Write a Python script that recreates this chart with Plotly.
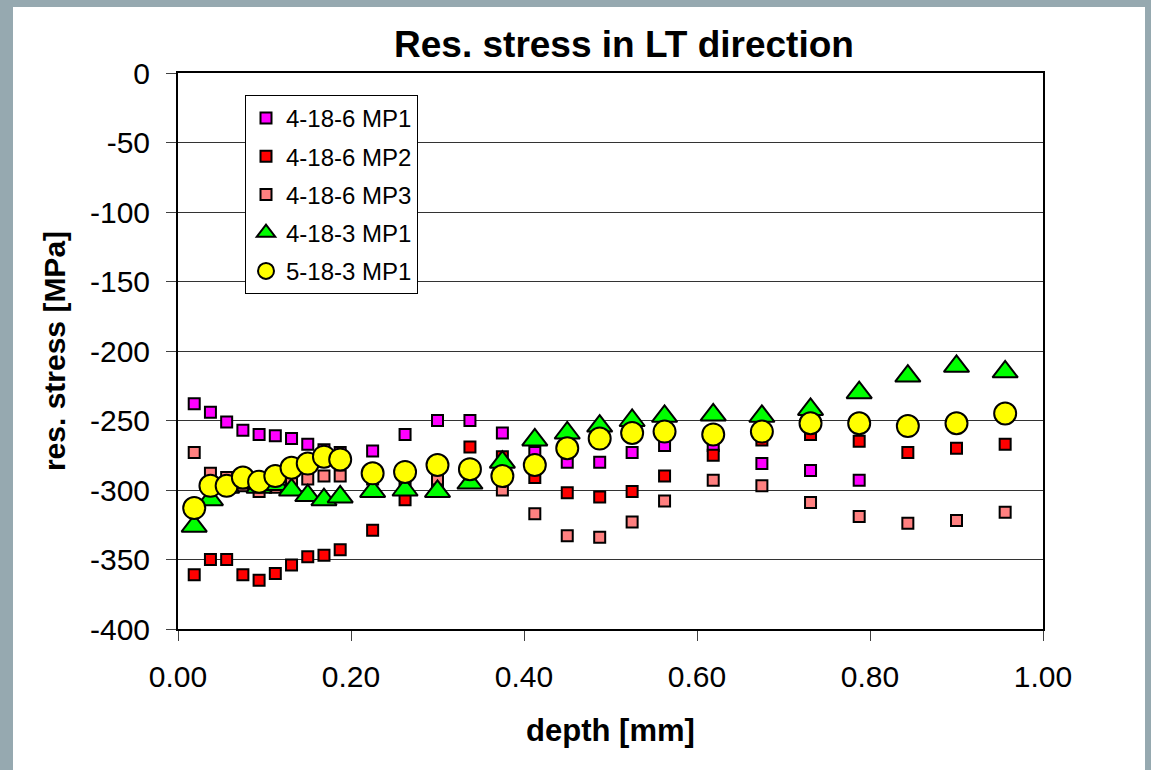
import plotly.graph_objects as go

depth = [0.01875, 0.0375, 0.05625, 0.075, 0.09375, 0.1125, 0.13125, 0.15, 0.16875, 0.1875,
         0.225, 0.2625, 0.3, 0.3375, 0.375, 0.4125, 0.45, 0.4875, 0.525, 0.5625,
         0.61875, 0.675, 0.73125, 0.7875, 0.84375, 0.9, 0.95625]

s_4_18_6_mp1 = [-238, -244, -251, -257, -260, -261, -263, -267, -271, -273,
                -272, -260, -250, -250, -259, -273, -280, -280, -273, -268,
                -268, -281, -286, -293]
s_4_18_6_mp2 = [-361, -350, -350, -361, -365, -360, -354, -348, -347, -343,
                -329, -307, -297, -269, -276, -291, -302, -305, -301, -290,
                -275, -264, -260, -265, -273, -270, -267]
s_4_18_6_mp3 = [-273, -288, -291, -297, -301, -298, -295, -292, -290, -290,
                -292, -293, -292, -291, -300, -317, -333, -334, -323, -308,
                -293, -297, -309, -319, -324, -322, -316]
s_4_18_3_mp1 = [-326, -307, -298, -295, -298, -296, -300, -304, -307, -305,
                -301, -300, -301, -295, -280, -264, -259, -254, -250, -247,
                -246, -247, -242, -230, -218, -211, -215]
s_5_18_3_mp1 = [-313, -297, -297, -291, -294, -290, -284, -281, -276, -278,
                -288, -287, -282, -285, -290, -282, -270, -263, -259, -258,
                -260, -258, -252, -252, -254, -252, -245]

names = ["4-18-6 MP1", "4-18-6 MP2", "4-18-6 MP3", "4-18-3 MP1", "5-18-3 MP1"]
y_ticks = [0, -50, -100, -150, -200, -250, -300, -350, -400]
x_ticks = [0.0, 0.2, 0.4, 0.6, 0.8, 1.0]

FONT = "Liberation Sans, Arial, sans-serif"

series = [
    (names[0], s_4_18_6_mp1, dict(symbol="square", size=11, color="#FF00FF")),
    (names[1], s_4_18_6_mp2, dict(symbol="square", size=11, color="#FF0000")),
    (names[2], s_4_18_6_mp3, dict(symbol="square", size=11, color="#FF8080")),
    (names[3], s_4_18_3_mp1, dict(symbol="triangle-up", size=22, color="#00FF00")),
    (names[4], s_5_18_3_mp1, dict(symbol="circle", size=22, color="#FFFF00")),
]

fig = go.Figure()
for i, (name, vals, mk) in enumerate(series):
    fig.add_trace(go.Scatter(
        x=depth[:len(vals)], y=vals, mode="markers", name=name,
        legendgroup=f"g{i}",
        marker=dict(symbol=mk["symbol"], size=mk["size"], color=mk["color"],
                    line=dict(color="black", width=2)),
    ))

# plot area in pixels: x 178..1043, y 73..629
L, R, T, B = 178, 1043, 73, 629
W, H = 1151, 770
pw, ph = R - L, B - T

def px2paper_x(px):
    return (px - L) / pw

def py2paper_y(py):
    return (B - py) / ph

fig.add_shape(type="rect", xref="paper", yref="paper",
              x0=px2paper_x(13), x1=px2paper_x(1145),
              y0=py2paper_y(775), y1=py2paper_y(7),
              fillcolor="white", line=dict(width=0), layer="below")

fig.update_layout(
    width=W, height=H,
    margin=dict(l=L, r=W - R, t=T, b=H - B, pad=0),
    paper_bgcolor="#96a9b0",
    plot_bgcolor="white",
    font=dict(family=FONT, color="black", size=30),
    title=dict(text="<b>Res. stress in LT direction</b>",
               font=dict(family=FONT, size=37, color="black"),
               x=624 / W, xanchor="center", xref="container",
               y=1 - 44 / H, yanchor="middle", yref="container"),
    showlegend=True,
    legend=dict(x=px2paper_x(245), y=py2paper_y(95), xanchor="left", yanchor="top",
                bgcolor="white", bordercolor="black", borderwidth=1,
                font=dict(family=FONT, size=24, color="black"),
                tracegroupgap=4, itemwidth=30),
)

fig.update_xaxes(
    range=[0, 1], tickvals=x_ticks, ticktext=[f"{v:.2f}" for v in x_ticks],
    showgrid=False, zeroline=False,
    showline=True, linecolor="black", linewidth=2, mirror=True,
    ticks="outside", ticklen=10, tickcolor="#404040", tickwidth=1,
    ticklabelstandoff=10,
    tickfont=dict(family=FONT, size=30, color="black"),
    title=dict(text="<b>depth [mm]</b>", font=dict(family=FONT, size=31, color="black"),
               standoff=27),
)
fig.update_yaxes(
    range=[-400, 0], tickvals=y_ticks, ticktext=[str(v) for v in y_ticks],
    showgrid=True, gridcolor="#333333", gridwidth=1, zeroline=False,
    showline=True, linecolor="black", linewidth=2, mirror=True,
    ticks="outside", ticklen=10, tickcolor="#404040", tickwidth=1,
    ticklabelstandoff=10,
    tickfont=dict(family=FONT, size=30, color="black"),
    title=dict(text="<b>res. stress [MPa]</b>", font=dict(family=FONT, size=30, color="black"),
               standoff=15),
)

fig.write_html("out.html")
